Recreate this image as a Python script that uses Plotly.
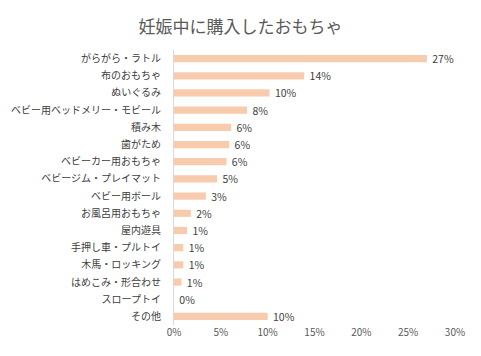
import plotly.graph_objects as go

categories = ["がらがら・ラトル", "布のおもちゃ", "ぬいぐるみ", "ベビー用ベッドメリー・モビール", "積み木",
              "歯がため", "ベビーカー用おもちゃ", "ベビージム・プレイマット", "ベビー用ボール",
              "お風呂用おもちゃ", "屋内遊具", "手押し車・プルトイ", "木馬・ロッキング",
              "はめこみ・形合わせ", "スロープトイ", "その他"]
values = [27.0, 13.9, 10.2, 7.8, 6.1, 5.9, 5.6, 4.6, 3.4, 1.8, 1.4, 1.0, 1.0, 0.8, 0.0, 10.0]
tick_vals = [0, 5, 10, 15, 20, 25, 30]
tick_text = ["0%", "5%", "10%", "15%", "20%", "25%", "30%"]

font = "Noto Sans CJK JP"
fig = go.Figure(go.Bar(
    x=values, y=categories, orientation="h",
    marker=dict(color="#F8CBAD", line=dict(width=0)),
    width=0.42,
    text=[" %d%%" % round(v) for v in values],
    textposition="outside",
    constraintext="none",
    textfont=dict(family=font, size=10.5, color="#404040"),
    cliponaxis=False,
    hoverinfo="skip",
))
fig.update_layout(
    width=481, height=356,
    margin=dict(l=174, r=26, t=50, b=31),
    paper_bgcolor="white", plot_bgcolor="white",
    title=dict(text="妊娠中に購入したおもちゃ", x=0.5, xanchor="center", y=0.925, yanchor="middle",
               font=dict(family=font, size=17, color="#595959")),
    showlegend=False,
    font=dict(family=font),
    uniformtext=dict(mode=False),
)
fig.update_xaxes(range=[0, 30], tickvals=tick_vals, ticktext=tick_text, showgrid=False,
                 zeroline=False, showline=False, ticks="", automargin=False,
                 tickfont=dict(family=font, size=10, color="#595959"))
fig.update_yaxes(autorange="reversed", showgrid=False, showline=True, linecolor="#D9D9D9",
                 linewidth=1, ticks="", ticklabelstandoff=10, automargin=False,
                 tickfont=dict(family=font, size=10, color="#404040"))
fig.write_html("out.html", config={"displayModeBar": False},
               post_script="document.body.style.margin='0';document.body.style.overflow='hidden';")
